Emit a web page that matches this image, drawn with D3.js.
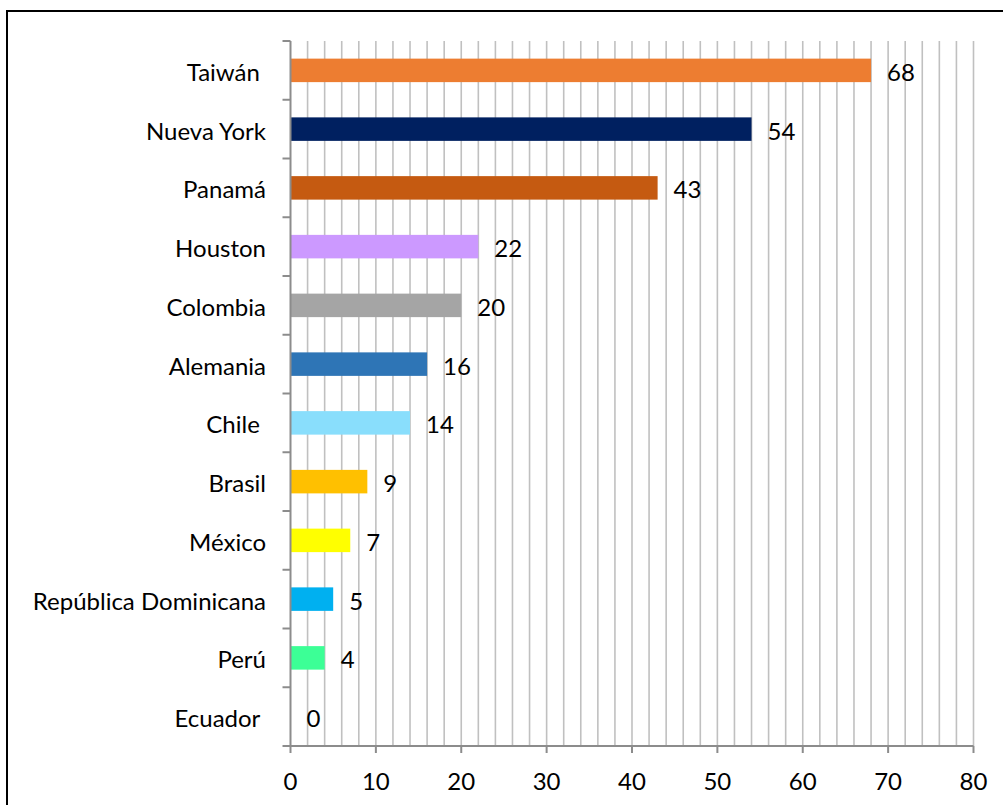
<!DOCTYPE html>
<html><head><meta charset="utf-8">
<script src="https://cdn.jsdelivr.net/npm/d3@7"></script>
<style>body{margin:0;background:#fff}text{font-family:Lato,"Open Sans",sans-serif;fill:#000;white-space:pre}</style>
</head><body><svg id="c" width="1003" height="805"></svg>
<script>
const categories = ["Taiwán ", "Nueva York", "Panamá", "Houston", "Colombia", "Alemania", "Chile ", "Brasil", "México", "República Dominicana", "Perú", "Ecuador "];
const values = [68, 54, 43, 22, 20, 16, 14, 9, 7, 5, 4, 0];
const colors = ["#ED7D31", "#002060", "#C55A11", "#CC99FF", "#A5A5A5", "#2E75B6", "#89DEFC", "#FFC000", "#FFFF00", "#00B0F0", "#3CFF96", "#FFFFFF"];
const xTicks = [0, 10, 20, 30, 40, 50, 60, 70, 80];
const gridStep = 2;

const svg = d3.select("#c");
svg.append("rect").attr("x", 7).attr("y", 11).attr("width", 1100).attr("height", 900)
  .attr("fill", "#fff").attr("stroke", "#000").attr("stroke-width", 2);

const L = 290.5, R = 973.5, T = 41, B = 746;
const FS = 24;
const x = d3.scaleLinear().domain([0, 80]).range([L, R]);
const y = d3.scaleBand().domain(categories).range([T, B]).paddingInner(0.6).paddingOuter(0.3);
const yb = d3.scaleBand().domain(categories).range([T, B]);

// gridlines
const gv = d3.range(gridStep, 80 + 0.001, gridStep);
svg.append("g").selectAll("line").data(gv).join("line")
  .attr("x1", d => x(d)).attr("x2", d => x(d)).attr("y1", T).attr("y2", B)
  .attr("stroke", "#c0c0c0").attr("stroke-width", 1.6);

// bars
svg.append("g").selectAll("rect").data(categories).join("rect")
  .attr("x", x(0)).attr("y", d => y(d)).attr("height", y.bandwidth())
  .attr("width", (d, i) => x(values[i]) - x(0))
  .attr("fill", (d, i) => colors[i]);

// y axis
const ya = svg.append("g");
ya.append("line").attr("x1", L).attr("x2", L).attr("y1", T).attr("y2", B).attr("stroke", "#8c8c8c").attr("stroke-width", 2);
const bounds = categories.map(c => yb(c)).concat([B]);
ya.selectAll("line.t").data(bounds).join("line").attr("class", "t")
  .attr("x1", L - 8).attr("x2", L).attr("y1", d => d).attr("y2", d => d)
  .attr("stroke", "#8c8c8c").attr("stroke-width", 2);
ya.selectAll("text").data(categories).join("text")
  .attr("x", 266).attr("y", d => yb(d) + yb.bandwidth() / 2 + 1)
  .attr("text-anchor", "end").attr("dominant-baseline", "central")
  .attr("font-size", FS).text(d => d);

// x axis
const xa = svg.append("g");
xa.append("line").attr("x1", L).attr("x2", R).attr("y1", B).attr("y2", B).attr("stroke", "#8c8c8c").attr("stroke-width", 2);
xa.selectAll("line.t").data(xTicks).join("line").attr("class", "t")
  .attr("x1", d => x(d)).attr("x2", d => x(d)).attr("y1", B).attr("y2", B + 7)
  .attr("stroke", "#8c8c8c").attr("stroke-width", 2);
xa.selectAll("text").data(xTicks).join("text")
  .attr("x", d => x(d)).attr("y", B + 34).attr("text-anchor", "middle").attr("dominant-baseline", "central")
  .attr("font-size", FS).text(d => d);

// value labels
svg.append("g").selectAll("text").data(categories).join("text")
  .attr("x", (d, i) => x(values[i]) + 16).attr("y", d => yb(d) + yb.bandwidth() / 2 + 1)
  .attr("dominant-baseline", "central").attr("font-size", FS)
  .text((d, i) => values[i]);
</script></body></html>
